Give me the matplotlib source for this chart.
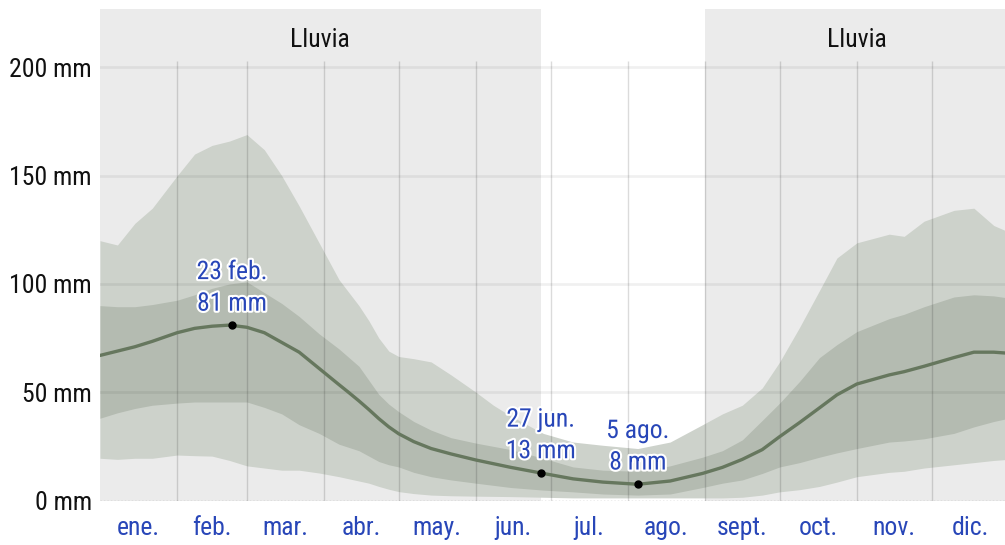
import matplotlib
matplotlib.use("Agg")
import matplotlib.pyplot as plt
import matplotlib.patheffects as pe
from matplotlib import font_manager
import numpy as np

# day of year (0 = 1 Jan) and rainfall percentiles (mm, 31-day sliding total)
days = [0, 7, 14, 21, 31, 38, 45, 52, 59, 66, 73, 80, 88, 96, 100, 104, 108, 112,
        116, 120, 126, 133, 141, 151, 158, 165, 178, 190, 202, 216, 229, 242, 250,
        258, 266, 273, 281, 289, 296, 304, 317, 323, 331, 343, 351, 359, 365]
p90 = [120, 118, 128, 135, 150, 160, 164, 166, 169, 162, 150, 136, 119, 102, 96,
       90, 83, 75, 69, 66.5, 65.5, 64, 58, 50, 44, 39, 31, 27, 25.5, 24, 27, 35,
       40, 44, 52, 64, 80, 97, 112, 119, 123, 122, 129, 134, 135, 127, 124]
p75 = [90, 89.5, 89.5, 90.5, 92.5, 95, 98, 100, 101, 96, 91, 85, 77, 70, 66, 62,
       55.5, 49, 44.5, 41, 36.5, 32.5, 29, 26.5, 25, 23.5, 19.5, 15.5, 14, 13.5,
       16, 20, 23, 28, 37, 45, 55, 66, 72, 78, 84, 86, 89.5, 94, 95, 94.5, 93.5]
p50 = [67, 69, 71, 73.5, 77.5, 79.5, 80.5, 81, 80, 77.5, 73, 68.5, 61, 53.5, 49.8,
       46, 42, 37.8, 34, 30.8, 27.2, 24, 21.5, 18.7, 17, 15.3, 12.5, 10, 8.5, 7.5,
       9, 12.5, 15.3, 19, 23.5, 29.5, 36, 42.8, 48.8, 53.8, 58, 59.5, 62, 66, 68.5,
       68.5, 68]
p25 = [38, 40.5, 42.5, 44, 45, 45.5, 45.5, 45.5, 45.5, 43, 40, 35, 31, 26, 24.5,
       23, 20.5, 18, 16.5, 15.5, 13, 11, 9.5, 8, 7, 6, 4.8, 4, 3, 2.5, 3, 6, 8,
       9.5, 12.5, 15.5, 17.5, 20, 22, 24, 27, 27.5, 28.5, 31, 34, 36.5, 38]
p10 = [19.5, 19, 19.5, 19.5, 21, 20.7, 20.5, 18.5, 16, 15, 14, 14, 12.7, 11, 10,
       9, 8, 6.5, 5.2, 4.1, 3.2, 2.5, 2.2, 2, 1.9, 1.8, 1.5, 1.2, 1.2, 1.2, 1.2,
       1.2, 1.2, 1.5, 2.5, 4, 5, 6.5, 8.5, 11, 13, 13.5, 15, 16.5, 17.5, 18.5, 19]

month_starts = [0, 31, 59, 90, 120, 151, 181, 212, 243, 273, 304, 334, 365]
month_labels = ["ene.", "feb.", "mar.", "abr.", "may.", "jun.",
                "jul.", "ago.", "sept.", "oct.", "nov.", "dic."]

rain_seasons = [(0, 177), (243, 365)]
rain_label = "Lluvia"

mark_days = [53, 177, 216]
mark_text = ["23 feb.\n81 mm", "27 jun.\n13 mm", "5 ago.\n8 mm"]

y_ticks = [0, 50, 100, 150, 200]

BG_RAIN = "#ebebeb"
OUTER = "#cdd2cb"
INNER = "#b4bbb1"
LINE = "#66775e"
BLUE = "#2846b8"


def pick_font():
    for name in ["Liberation Sans Narrow", "Arial Narrow", "Roboto Condensed"]:
        try:
            font_manager.findfont(name, fallback_to_default=False)
            return [name, "DejaVu Sans"]
        except ValueError:
            continue
    return ["DejaVu Sans"]


plt.rcParams["font.family"] = pick_font()

fig = plt.figure(figsize=(10.05, 5.45), dpi=100)
ax = fig.add_axes([100 / 1005, 44.5 / 545, 905 / 1005, 491.5 / 545])
ax.set_xlim(0, 363.5)
ax.set_ylim(0, 227)
for s in ax.spines.values():
    s.set_visible(False)

# rainy season shading + header labels
for a, b in rain_seasons:
    ax.axvspan(a, b, color=BG_RAIN, lw=0, zorder=0)
    ax.text((a + b) / 2, 212.5, rain_label, ha="center", va="center",
            fontsize=18.5, color="#111111", zorder=5)

ax.fill_between(days, p10, p90, color=OUTER, lw=0, zorder=1)
ax.fill_between(days, p25, p75, color=INNER, lw=0, zorder=2)
ax.plot(days, p50, color=LINE, lw=2.4, zorder=4, solid_joinstyle="round")

# grid drawn over the bands
for yv in y_ticks[1:]:
    ax.axhline(yv, color="black", alpha=0.06, lw=2, zorder=3)
ax.axhline(0, color="#aaaaaa", lw=1, ls=(0, (1, 1.5)), zorder=3)
ax.vlines(month_starts[1:-1], 0, 203, color="black", alpha=0.14, lw=1, zorder=3)

# highlighted points
mark_vals = np.interp(mark_days, days, p50)
ax.plot(mark_days, mark_vals, "o", color="black", ms=5, zorder=6)
for d, v, t in zip(mark_days, mark_vals, mark_text):
    ax.annotate(t, (d, v), xytext=(0, 7), textcoords="offset points",
                ha="center", va="bottom", fontsize=18.5, color=BLUE,
                linespacing=1.4, zorder=7,
                path_effects=[pe.withStroke(linewidth=3, foreground="white")])

mids = [(month_starts[i] + month_starts[i + 1]) / 2 for i in range(12)]
ax.set_xticks(mids)
ax.set_xticklabels(month_labels, fontsize=18.5, color=BLUE)
ax.set_yticks(y_ticks)
ax.set_yticklabels([f"{v} mm" for v in y_ticks], fontsize=18.5, color="#111111")
ax.tick_params(axis="both", length=0)
ax.tick_params(axis="x", pad=11)
ax.tick_params(axis="y", pad=6)

fig.savefig("out.png", dpi=100, facecolor="white")
